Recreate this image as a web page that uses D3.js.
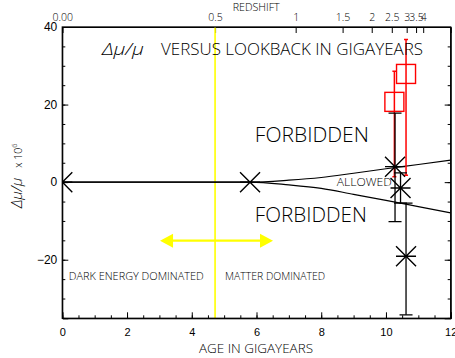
<!DOCTYPE html>
<html>
<head>
<meta charset="utf-8">
<script src="https://cdn.jsdelivr.net/npm/d3@7"></script>
<style>
  body { margin: 0; background: #fff; }
  svg { display: block; font-family: "Open Sans", "Liberation Sans", Arial, sans-serif; font-weight: 300; }
</style>
</head>
<body>
<svg id="chart"></svg>
<script>
/* data */
// redshift labels of the top axis & the age (gigayears) where each sits
const redshiftLabels = ["0.00", "0.5", "1", "1.5", "2", "2.5", "3", "3.5", "4"];
const redshiftAges = [0, 4.72, 7.21, 8.66, 9.56, 10.18, 10.64, 10.93, 11.15];
// black asterisk measurements
const starAges = [0, 5.8, 10.28, 10.45, 10.62];
const starValues = [0, 0, 4.0, -1.5, -19.1];
const starLow = [null, null, -10.2, -5.4, -34.2];
const starHigh = [null, null, 17.8, 2.4, -5.4];
// red square measurements
const squareAges = [10.26, 10.62];
const squareValues = [20.7, 27.9];
const squareLow = [1.4, 1.8];
const squareHigh = [28.6, 36.8];
// allowed region boundaries
const boundAges = [0, 5.8, 7, 8, 9, 10, 11, 12];
const boundUpper = [0, 0, 0.5, 1.2, 2.3, 3.45, 4.55, 5.7];
const boundLower = [0, 0, -0.7, -1.6, -3.15, -4.7, -6.3, -7.9];
// age where matter & dark energy balance (z = 0.5)
const equalityAge = [4.72];

/* layout */
const width = 455;
const height = 358;
const margin = { top: 27, right: 4.3, bottom: 39.7, left: 62.3 };
const plotW = width - margin.left - margin.right;
const plotH = height - margin.top - margin.bottom;

const svg = d3.select("#chart").attr("width", width).attr("height", height);

const x = d3.scaleLinear().domain([0, 12]).range([0, plotW]);
const y = d3.scaleLinear().domain([-35.1, 40]).range([plotH, 0]);

const root = svg
  .append("g")
  .attr("transform", `translate(${margin.left},${margin.top})`);

svg
  .append("defs")
  .append("clipPath")
  .attr("id", "plot-clip")
  .append("rect")
  .attr("width", plotW)
  .attr("height", plotH);

/* axes: ticks point into the frame, minor ticks shorter */
function drawAxes() {
  const bottom = root.append("g").attr("transform", `translate(0,${plotH})`);
  bottom
    .call(d3.axisBottom(x).tickValues(x.ticks(24)).tickSize(-3).tickFormat(""))
    .call((g) => g.select(".domain").remove());
  bottom
    .append("g")
    .call(d3.axisBottom(x).ticks(6).tickSize(-6).tickPadding(10).tickFormat(d3.format("d")))
    .attr("font-size", 11)
    .attr("font-family", null);

  const left = root.append("g");
  left
    .call(d3.axisLeft(y).tickValues(y.ticks(15)).tickSize(-3).tickFormat(""))
    .call((g) => g.select(".domain").remove());
  left
    .append("g")
    .call(d3.axisLeft(y).tickValues([-20, 0, 20, 40]).tickSize(-6).tickPadding(5))
    .attr("font-size", 12)
    .attr("font-family", null);

  const right = root.append("g").attr("transform", `translate(${plotW},0)`);
  right
    .call(d3.axisRight(y).tickValues(y.ticks(15)).tickSize(-3).tickFormat(""))
    .call((g) => g.select(".domain").remove());
  right
    .append("g")
    .call(d3.axisRight(y).tickValues([-20, 0, 20, 40]).tickSize(-6).tickFormat(""));

  // redshift on top, placed at matching ages
  root
    .append("g")
    .call(
      d3
        .axisTop(x)
        .tickValues(redshiftAges)
        .tickSize(-6)
        .tickPadding(6)
        .tickFormat((d, i) => redshiftLabels[i])
    )
    .attr("font-size", 10.5)
    .attr("font-family", null);

  root.selectAll(".tick line").attr("stroke", "#000");
  root.selectAll(".domain").attr("stroke", "#000");
  root.selectAll(".tick text").attr("fill", "#000");
}

/* error bar with flat caps */
function errorBar(g, cx, lo, hi, cap, color, sw) {
  g.append("line")
    .attr("x1", cx).attr("x2", cx)
    .attr("y1", y(lo)).attr("y2", y(hi))
    .attr("stroke", color).attr("stroke-width", sw);
  [lo, hi].forEach((v) => {
    g.append("line")
      .attr("x1", cx - cap).attr("x2", cx + cap)
      .attr("y1", y(v)).attr("y2", y(v))
      .attr("stroke", color).attr("stroke-width", sw);
  });
}

function drawMarks() {
  const plot = root.append("g").attr("clip-path", "url(#plot-clip)");

  // yellow z = 0.5 line
  plot
    .selectAll(".eq-line")
    .data(equalityAge)
    .join("line")
    .attr("class", "eq-line")
    .attr("x1", (d) => x(d)).attr("x2", (d) => x(d))
    .attr("y1", 0).attr("y2", plotH)
    .attr("stroke", "#ffff00")
    .attr("stroke-width", 1.6);

  // allowed region edges
  const bounds = boundAges.map((a, i) => ({ a, up: boundUpper[i], lo: boundLower[i] }));
  const edge = (key) =>
    d3.line().x((d) => x(d.a)).y((d) => y(d[key])).curve(d3.curveMonotoneX);
  ["up", "lo"].forEach((key) => {
    plot
      .append("path")
      .datum(bounds)
      .attr("d", edge(key))
      .attr("fill", "none")
      .attr("stroke", "#000")
      .attr("stroke-width", 1.2);
  });

  // red error bars & squares
  const red = plot.append("g");
  squareAges.forEach((a, i) => {
    errorBar(red, x(a), squareLow[i], squareHigh[i], 2, "#ff0000", 1.5);
  });
  const side = 19;
  red
    .selectAll("rect")
    .data(squareAges)
    .join("rect")
    .attr("x", (d) => x(d) - side / 2)
    .attr("y", (d, i) => y(squareValues[i]) - side / 2)
    .attr("width", side)
    .attr("height", side)
    .attr("fill", "none")
    .attr("stroke", "#ff0000")
    .attr("stroke-width", 1.4);

  // black error bars & asterisks
  const black = plot.append("g");
  starAges.forEach((a, i) => {
    if (starLow[i] !== null) {
      errorBar(black, x(a), starLow[i], starHigh[i], 6.5, "#000", 1.3);
    }
  });
  const r = 10;
  const star = `M${-r},0H${r}M${-r},${-r}L${r},${r}M${-r},${r}L${r},${-r}`;
  black
    .selectAll(".star")
    .data(starAges)
    .join("path")
    .attr("class", "star")
    .attr("transform", (d, i) => `translate(${x(d)},${y(starValues[i])})`)
    .attr("d", star)
    .attr("fill", "none")
    .attr("stroke", "#000")
    .attr("stroke-width", 1.4);

  // yellow double arrow between the two eras
  const ay = y(-15.1);
  const ax1 = x(3.02);
  const ax2 = x(6.51);
  plot
    .append("line")
    .attr("x1", ax1 + 10).attr("x2", ax2 - 10)
    .attr("y1", ay).attr("y2", ay)
    .attr("stroke", "#ffff00")
    .attr("stroke-width", 2.2);
  plot
    .append("path")
    .attr(
      "d",
      `M${ax1},${ay}l13,-7v14Z M${ax2},${ay}l-13,-7v14Z`
    )
    .attr("fill", "#ffff00");

  // frame on top
  root
    .append("rect")
    .attr("width", plotW)
    .attr("height", plotH)
    .attr("fill", "none")
    .attr("stroke", "#000")
    .attr("stroke-width", 1.3);
}

/* labels & annotations */
function drawText() {
  const label = (txt, px, py, size, len, anchor = "start") =>
    svg
      .append("text")
      .attr("x", px)
      .attr("y", py)
      .attr("font-size", size)
      .attr("text-anchor", anchor)
      .attr("textLength", len)
      .attr("lengthAdjust", "spacingAndGlyphs")
      .attr("fill", "#000")
      .text(txt);

  const X = (v) => margin.left + x(v);
  const Y = (v) => margin.top + y(v);

  label("REDSHIFT", 232.7, 11, 10, 47);
  label("AGE IN GIGAYEARS", 199, 352.5, 12.5, 114);

  // title
  label("Δμ/μ", 102, 55, 17, 42).attr("font-style", "italic");
  label("VERSUS LOOKBACK IN GIGAYEARS", 161, 55, 16, 262);

  label("FORBIDDEN", X(5.95), Y(10.3), 20.5, 114);
  label("FORBIDDEN", X(5.95), Y(-10.3), 20.5, 112);
  label("ALLOWED", X(8.48), Y(-1), 11.5, 55);
  label("DARK ENERGY DOMINATED", X(0.2), Y(-25.3), 11, 135);
  label("MATTER DOMINATED", X(5.03), Y(-25.3), 11, 100);

  // rotated y label
  const ylab = svg
    .append("text")
    .attr("transform", "translate(22,208) rotate(-90)")
    .attr("fill", "#000");
  ylab
    .append("tspan")
    .attr("font-style", "italic")
    .attr("font-size", 15)
    .text("Δμ/μ");
  ylab.append("tspan").attr("font-size", 10.5).attr("dx", 10).text("x  10");
  ylab.append("tspan").attr("font-size", 7.5).attr("dy", -5).text("6");
}

drawAxes();
drawMarks();
drawText();
</script>
</body>
</html>
